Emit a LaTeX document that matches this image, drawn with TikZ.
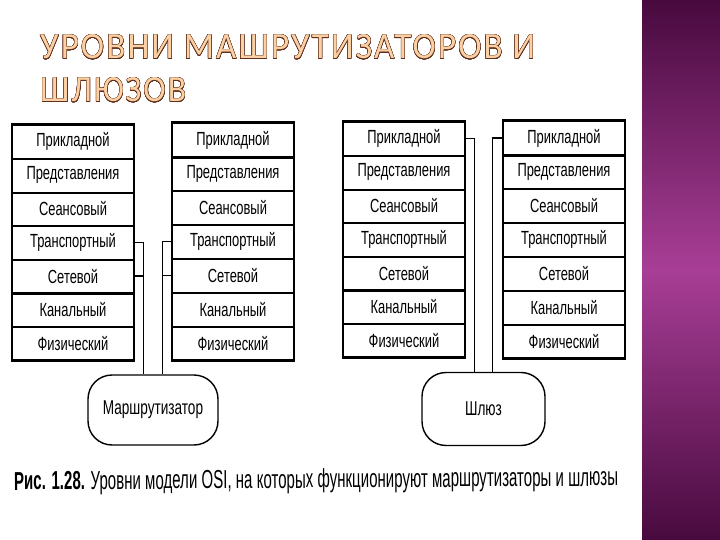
\documentclass[tikz,border=0pt]{standalone}
\usepackage{fontspec}
\usepackage{contour}
\setmainfont{Liberation Sans}
\newfontfamily\rowfont[FakeStretch=0.68]{Liberation Sans}
\newfontfamily\capfont[FakeStretch=0.58]{Liberation Sans}
\newfontfamily\titlefont[LetterSpace=6]{Carlito}
\definecolor{titlefill}{RGB}{251,208,165}
\definecolor{titleline}{RGB}{95,45,25}
\definecolor{pTop}{RGB}{72,10,62}
\definecolor{pMid}{RGB}{168,62,150}
\contourlength{0.35pt}
\contournumber{24}
\newcommand\osistack[4]{%
  \pgfmathsetmacro\rh{(#4-#3)/7}%
  \foreach \t [count=\i] in {Прикладной,Представления,Сеансовый,Транспортный,Сетевой,Канальный,Физический} {
    \node[osirow, minimum height=\rh pt] (#1r\i) at (#2+61, {#3+(\i-0.5)*\rh}) {\t};
  }
  \draw[sep] (#1r1.north west) -- (#1r1.north east);
  \foreach \i in {1,...,7} {
    \draw[sep] (#1r\i.south west) -- (#1r\i.south east);
  }
}
\begin{document}
\begin{tikzpicture}[x=1pt,y=-1pt,
  osirow/.style={draw, line width=1.1pt, minimum width=122pt, inner sep=0pt, font=\rowfont\fontsize{19}{21}\selectfont},
  sep/.style={line width=2.2pt},
  conn/.style={line width=1.2pt},
  device/.style={draw, line width=1.4pt, rounded corners=24pt, inner sep=0pt, font=\rowfont\fontsize{20}{22}\selectfont}]
\useasboundingbox (0,0) rectangle (720,540);
% purple side panel
\shade[top color=pTop, bottom color=pTop, middle color=pMid] (642,0) rectangle (720,540);
% title
\node[anchor=base west, inner sep=0pt] (t1) at (40,59)
  {\resizebox{495pt}{24pt}{\titlefont\fontsize{36}{40}\selectfont\color{titlefill}\contour{titleline}{УРОВНИ МАШРУТИЗАТОРОВ И}}};
\node[anchor=base west, inner sep=0pt] (t2) at (40,102)
  {\resizebox{146pt}{24pt}{\titlefont\fontsize{36}{40}\selectfont\color{titlefill}\contour{titleline}{ШЛЮЗОВ}}};
% stacks
\osistack{s1}{12}{125}{360}
\osistack{s2}{172}{123}{360}
\osistack{s3}{343}{122}{357}
\osistack{s4}{503}{121}{358}
% devices
\node[device, minimum width=130pt, minimum height=70pt] (router) at (153,410) {Маршрутизатор};
\node[device, minimum width=123pt, minimum height=73pt] (gate) at (483.5,409) {Шлюз};
% router connectors
\draw[conn] (s1r4.east) -- ++(9,0) coordinate (ra) -- (ra |- router.north);
\draw[conn] (s1r5.east) -- (s1r5.east -| ra);
\draw[conn] (s2r4.west) -- ++(-9,0) coordinate (rb) -- (rb |- router.north);
\draw[conn] (s2r5.west) -- (s2r5.west -| rb);
% gateway connectors
\draw[conn] (s3r1.east) -- ++(9,0) coordinate (ga) -- (ga |- gate.north);
\draw[conn] (s4r1.west) -- ++(-10,0) coordinate (gb) -- (gb |- gate.north);
% caption
\node[anchor=base west, inner sep=0pt, rotate=0.4] (cap) at (14,490)
  {\resizebox{604pt}{!}{\capfont\fontsize{23}{25}\selectfont\textbf{Рис. 1.28.} Уровни модели OSI, на которых функционируют маршрутизаторы и шлюзы}};
\end{tikzpicture}
\end{document}
